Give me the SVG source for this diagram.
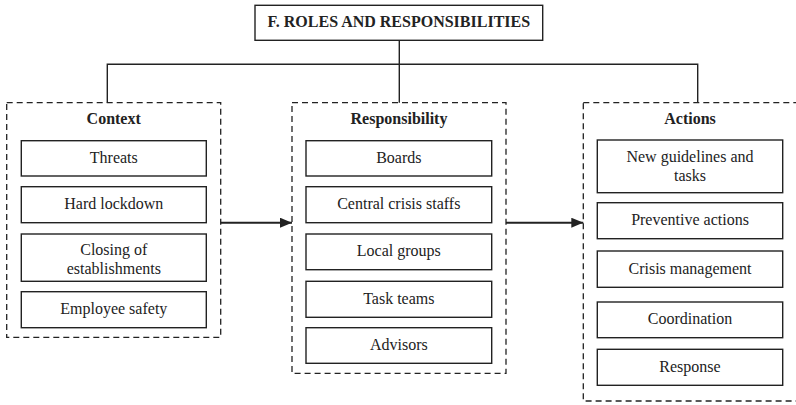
<svg xmlns="http://www.w3.org/2000/svg" width="796" height="405" viewBox="0 0 796 405" font-family="'Liberation Serif', Tinos, 'Times New Roman', 'DejaVu Serif', serif">
<style>
  .bg{fill:#fff}
  .box{fill:#fff;stroke:#222;stroke-width:1.4}
  .dash{fill:none;stroke:#222;stroke-width:1.3;stroke-dasharray:6 4}
  .conn{fill:none;stroke:#222;stroke-width:1.4}
  .arrow{fill:none;stroke:#222;stroke-width:2}
  text{font-family:'Liberation Serif', Tinos, 'Times New Roman', 'DejaVu Serif', serif;font-size:16px;fill:#222;text-anchor:middle}
  .b{font-weight:bold}
</style>
<defs>
  <marker id="ah" viewBox="0 0 12 10" refX="12" refY="5" markerWidth="12" markerHeight="10" markerUnits="userSpaceOnUse" orient="auto">
    <path d="M0,0 L12,5 L0,10 Z" fill="#222"/>
  </marker>
</defs>
<rect class="bg" x="0" y="0" width="796" height="405"/>

<g id="connectors">
  <path class="conn" d="M399.3,40.3 V102.7"/>
  <path class="conn" d="M107.3,102.7 V64.3 H697.7 V102.7"/>
  <path class="arrow" d="M220.7,222.7 H292" marker-end="url(#ah)"/>
  <path class="arrow" d="M506,222.7 H583.3" marker-end="url(#ah)"/>
</g>

<g id="title">
  <rect class="box" x="255" y="5.3" width="287.7" height="35"/>
  <text class="b" x="398.8" y="27">F. ROLES AND RESPONSIBILITIES</text>
</g>

<g id="context">
  <rect class="dash" x="6.7" y="102.7" width="214" height="234.6"/>
  <text class="b" x="113.7" y="124">Context</text>
  <g id="threats">
    <rect class="box" x="21.3" y="140.7" width="185" height="35.3"/>
    <text x="113.8" y="162.5">Threats</text>
  </g>
  <g id="hard-lockdown">
    <rect class="box" x="21.3" y="186.7" width="185" height="36"/>
    <text x="113.8" y="209">Hard lockdown</text>
  </g>
  <g id="closing">
    <rect class="box" x="21.3" y="234" width="185" height="47.3"/>
    <text x="113.8" y="255">Closing of</text>
    <text x="113.8" y="274">establishments</text>
  </g>
  <g id="employee-safety">
    <rect class="box" x="21.3" y="291.7" width="185" height="36"/>
    <text x="113.8" y="313.5">Employee safety</text>
  </g>
</g>

<g id="responsibility">
  <rect class="dash" x="292" y="102.7" width="214" height="270.6"/>
  <text class="b" x="399" y="124">Responsibility</text>
  <g id="boards">
    <rect class="box" x="306" y="140.7" width="185.7" height="35.3"/>
    <text x="398.8" y="162.5">Boards</text>
  </g>
  <g id="central-crisis-staffs">
    <rect class="box" x="306" y="186.7" width="185.7" height="36"/>
    <text x="398.8" y="209">Central crisis staffs</text>
  </g>
  <g id="local-groups">
    <rect class="box" x="306" y="234" width="185.7" height="35.7"/>
    <text x="398.8" y="256">Local groups</text>
  </g>
  <g id="task-teams">
    <rect class="box" x="306" y="281.3" width="185.7" height="36"/>
    <text x="398.8" y="303.5">Task teams</text>
  </g>
  <g id="advisors">
    <rect class="box" x="306" y="327.7" width="185.7" height="35.6"/>
    <text x="398.8" y="349.8">Advisors</text>
  </g>
</g>

<g id="actions">
  <rect class="dash" x="583.3" y="102.7" width="220" height="298.3"/>
  <text class="b" x="690" y="124">Actions</text>
  <g id="new-guidelines">
    <rect class="box" x="597.3" y="140" width="185.4" height="52.7"/>
    <text x="690" y="161.7">New guidelines and</text>
    <text x="690" y="180.5">tasks</text>
  </g>
  <g id="preventive-actions">
    <rect class="box" x="597.3" y="202.7" width="185.4" height="36"/>
    <text x="690" y="225">Preventive actions</text>
  </g>
  <g id="crisis-management">
    <rect class="box" x="597.3" y="251" width="185.4" height="36.3"/>
    <text x="690" y="273.5">Crisis management</text>
  </g>
  <g id="coordination">
    <rect class="box" x="597.3" y="302" width="185.4" height="35.7"/>
    <text x="690" y="324">Coordination</text>
  </g>
  <g id="response">
    <rect class="box" x="597.3" y="349.3" width="185.4" height="36"/>
    <text x="690" y="371.5">Response</text>
  </g>
</g>
</svg>
